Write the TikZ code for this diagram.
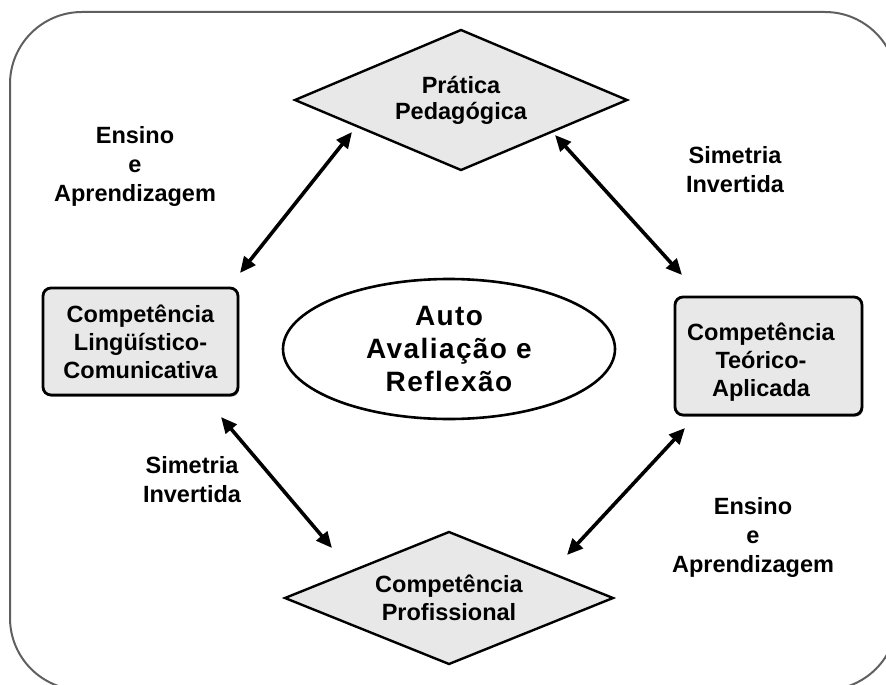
\documentclass[tikz,border=0pt]{standalone}
\usepackage{fontspec}
\setmainfont{Liberation Sans}
\usetikzlibrary{shapes.geometric,arrows.meta,shadows}
\definecolor{boxfill}{HTML}{E8E8E8}
\definecolor{framegray}{HTML}{5F5F5F}
\begin{document}
\begin{tikzpicture}[x=1pt,y=-1pt,
  lbl/.style={font=\bfseries\fontsize{23.5}{29}\selectfont, align=center, inner sep=0pt},
  dia/.style={diamond, draw=black, line width=2.4pt, fill=boxfill, inner sep=0pt, outer sep=0pt, aspect=2.4,
    font=\bfseries\fontsize{23.5}{28}\selectfont, align=center},
  cbox/.style={rectangle, rounded corners=8pt, draw=black, line width=2.8pt, fill=boxfill, inner sep=0pt, outer sep=0pt,
    font=\bfseries\fontsize{23.5}{28}\selectfont, align=center,
    drop shadow={shadow xshift=1.2pt, shadow yshift=-1.6pt, fill=black, opacity=0.6}},
  ell/.style={ellipse, draw=black, line width=2.6pt, fill=white, inner sep=0pt, outer sep=0pt,
    font=\bfseries\fontsize{28}{33}\selectfont\addfontfeature{LetterSpace=5}, align=center},
  dbl/.style={line width=3.6pt, {Triangle[length=16pt,width=14pt]}-{Triangle[length=16pt,width=14pt]}}
]
\useasboundingbox (0,0) rectangle (886,685);
\draw[framegray, line width=2pt, rounded corners=72pt] (10,12) rectangle (897,690);

\node[dia, minimum width=332pt, minimum height=140pt] (pp) at (461,100) {Prática\\[-2pt]Pedagógica};
\node[dia, minimum width=328pt, minimum height=132pt] (cp) at (449,598) {Competência\\Profissional};
\node[cbox, minimum width=195pt, minimum height=107pt] (cl) at (140.5,341.5) {Competência\\Lingüístico-\\Comunicativa};
\node[cbox, minimum width=187pt, minimum height=118pt] (ct) at (768.5,356) {};
\node[font=\bfseries\fontsize{23.5}{28}\selectfont, align=center, inner sep=0pt] (ctt) at (761,362) {Competência\\Teórico-\\Aplicada};
\node[ell, minimum width=332pt, minimum height=140pt] (el) at (449,349) {Auto\\Avaliação e\\Reflexão};

\node[lbl] (l1) at (135,166) {Ensino\\e\\Aprendizagem};
\node[lbl] (l2) at (735,170) {Simetria\\Invertida};
\node[lbl] (l3) at (192,480) {Simetria\\Invertida};
\node[lbl] (l4) at (753,537) {Ensino\\e\\Aprendizagem};

\draw[dbl] ([shift={(2,-15)}]cl.north east) -- ([shift={(57,32)}]pp.west);
\draw[dbl] ([shift={(-72,35)}]pp.east) -- ([shift={(7,-22)}]ct.north west);
\draw[dbl] ([shift={(-17,22)}]cl.south east) -- ([shift={(47,-50)}]cp.west);
\draw[dbl] ([shift={(10,13)}]ct.south west) -- ([shift={(-46,-43)}]cp.east);
\end{tikzpicture}
\end{document}
